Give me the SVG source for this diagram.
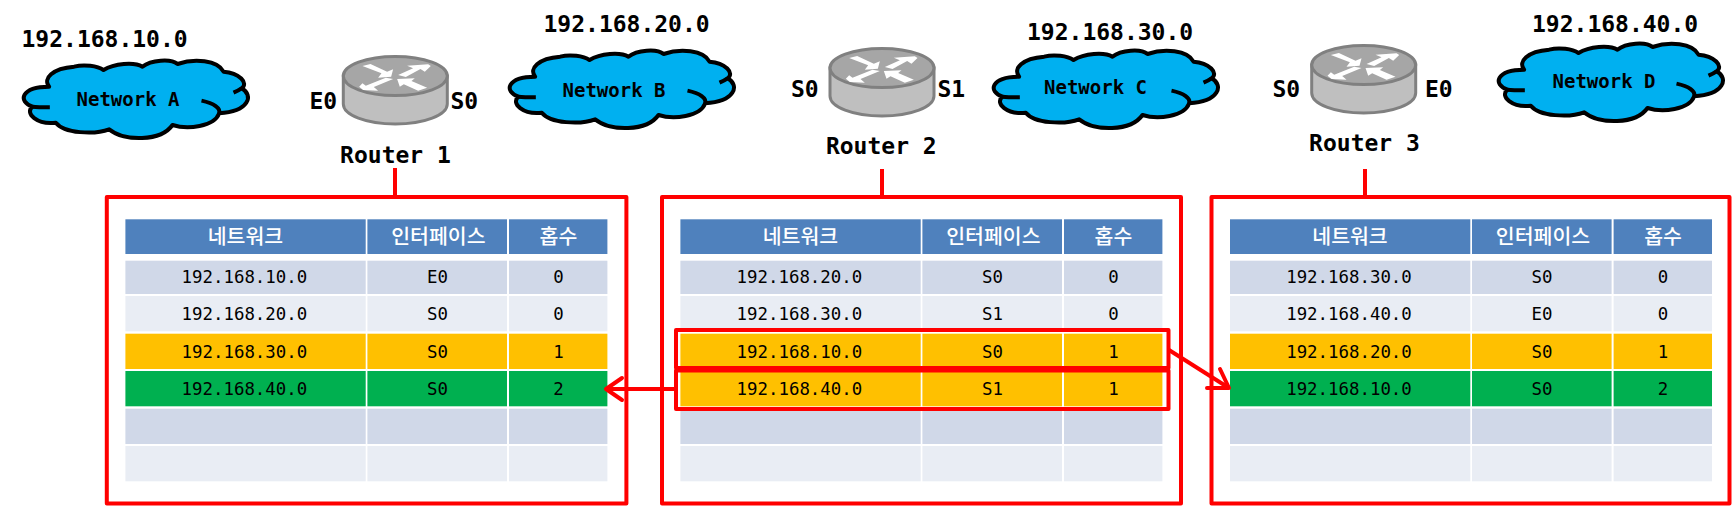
<svg xmlns="http://www.w3.org/2000/svg" xmlns:xlink="http://www.w3.org/1999/xlink" width="1733" height="506" viewBox="0 0 1733 506">
<style>
text{font-family:"DejaVu Sans Mono","Liberation Mono",monospace;fill:#000}
.b{font-weight:bold;font-size:23px}
.n{font-weight:bold;font-size:19px}
.m{text-anchor:middle}
.t{font-size:17.400px;text-anchor:middle}
.h{font-family:"Noto Sans CJK KR","Noto Sans",sans-serif;font-size:20.500px;font-weight:500;fill:#fff;text-anchor:middle}
.hd{fill:#4f81bd}.a{fill:#d0d8e8}.c{fill:#e9edf4}.o{fill:#ffc000}.g{fill:#00b050}
.red{fill:none;stroke:#f00;stroke-width:4;stroke-linejoin:round}
.cloud{fill:#00b0f0;stroke:#000;stroke-width:12;stroke-linejoin:round}
.tick{fill:none;stroke:#000;stroke-width:12}
</style>
<defs>
<g id="cl" transform="translate(17.500 50) scale(.33333)">
<path class="cloud" d="M95 110C75 85 105 55 170 50C200 42 240 48 258 60C290 40 350 35 375 50C400 30 460 25 480 42C530 25 600 30 618 65C665 68 695 100 672 115C710 135 695 185 605 190C590 230 510 240 465 225C430 275 320 275 275 238C230 255 140 250 115 218C60 225 20 190 45 170C0 155 10 110 95 110Z"/>
<path class="tick" d="M45 170C60 172 80 172 97 172M672 115C665 120 657 124 648 128M552 152C590 160 610 175 605 190"/>
</g>
<g id="rt">
<path d="M-52 0V28C-52 39 -29 48 0 48C29 48 52 39 52 28V0Z" fill="#bfbfbf" stroke="#808080" stroke-width="3"/>
<ellipse cx="0" cy="0" rx="52" ry="19.500" fill="#a6a6a6" stroke="#808080" stroke-width="3"/>
<g fill="#fff" transform="translate(-45.500 -21) scale(.33333)">
<polygon points="38,33 62,27 112,50 130,43 124,65 85,68 95,55"/>
<polygon points="145,60 190,40 172,32 235,28 243,33 225,50 212,42 168,66"/>
<polygon points="28,95 38,85 48,92 108,68 130,72 72,96 85,107 40,105"/>
<polygon points="142,72 195,70 185,78 232,98 205,107 162,88 150,95"/>
</g>
</g>
<g id="r0"><rect x="0" width="240.300" height="34.700"/><rect x="242" width="139.600" height="34.700"/><rect x="383.600" width="98.400" height="34.700"/></g>
<g id="r1"><rect x="0" width="240.300" height="33.300"/><rect x="242" width="139.600" height="33.300"/><rect x="383.600" width="98.400" height="33.300"/></g>
<g id="r"><rect x="0" width="240.300" height="35.300"/><rect x="242" width="139.600" height="35.300"/><rect x="383.600" width="98.400" height="35.300"/></g>
<g id="hdr">
<use href="#r0" y="219.300" class="hd"/>
<text class="h" x="120" y="243.500">네트워크</text><text class="h" x="313" y="243.500">인터페이스</text><text class="h" x="433" y="243.500">홉수</text>
</g>
<g id="bg">
<use href="#r" y="408.700" class="a"/><use href="#r" y="446" class="c"/>
<use href="#r1" y="260.700" class="a"/><use href="#r" y="296" class="c"/>
</g>
</defs>

<g id="cloud-a"><use href="#cl" x="0" y="0"/><text class="n m" x="128" y="106">Network A</text></g>
<g id="label-a"><text class="b" x="21.500" y="47">192.168.10.0</text></g>
<g id="cloud-b"><use href="#cl" x="486" y="-10"/><text class="n m" x="614" y="97">Network B</text></g>
<g id="label-b"><text class="b" x="543.500" y="32">192.168.20.0</text></g>
<g id="cloud-c"><use href="#cl" x="970" y="-10"/><text class="n m" x="1095.500" y="93.500">Network C</text></g>
<g id="label-c"><text class="b" x="1027" y="40">192.168.30.0</text></g>
<g id="cloud-d"><use href="#cl" x="1475" y="-17"/><text class="n m" x="1604" y="88">Network D</text></g>
<g id="label-d"><text class="b" x="1532" y="32">192.168.40.0</text></g>

<g id="router-1"><use href="#rt" x="395.300" y="76"/><text class="b" x="309.500" y="109">E0</text><text class="b" x="450.500" y="109">S0</text><text class="b m" x="395.500" y="163">Router 1</text></g>
<g id="router-2"><use href="#rt" x="882" y="68"/><text class="b" x="791" y="96.500">S0</text><text class="b" x="937.500" y="96.500">S1</text><text class="b m" x="881.300" y="154">Router 2</text></g>
<g id="router-3"><use href="#rt" x="1363.700" y="65"/><text class="b" x="1272.500" y="96.700">S0</text><text class="b" x="1425" y="96.700">E0</text><text class="b m" x="1364.500" y="150.500">Router 3</text></g>

<g id="table-1" transform="translate(125.400 0)">
<use href="#hdr"/><use href="#bg"/><use href="#r" y="333.700" class="o"/><use href="#r" y="371" class="g"/>
<text class="t" x="119" y="283">192.168.10.0</text><text class="t" x="312" y="283">E0</text><text class="t" x="433" y="283">0</text>
<text class="t" x="119" y="320">192.168.20.0</text><text class="t" x="312" y="320">S0</text><text class="t" x="433" y="320">0</text>
<text class="t" x="119" y="358">192.168.30.0</text><text class="t" x="312" y="358">S0</text><text class="t" x="433" y="358">1</text>
<text class="t" x="119" y="395">192.168.40.0</text><text class="t" x="312" y="395">S0</text><text class="t" x="433" y="395">2</text>
</g>
<g id="table-2" transform="translate(680.400 0)">
<use href="#hdr"/><use href="#bg"/><use href="#r" y="333.700" class="o"/><use href="#r" y="371" class="o"/>
<text class="t" x="119" y="283">192.168.20.0</text><text class="t" x="312" y="283">S0</text><text class="t" x="433" y="283">0</text>
<text class="t" x="119" y="320">192.168.30.0</text><text class="t" x="312" y="320">S1</text><text class="t" x="433" y="320">0</text>
<text class="t" x="119" y="358">192.168.10.0</text><text class="t" x="312" y="358">S0</text><text class="t" x="433" y="358">1</text>
<text class="t" x="119" y="395">192.168.40.0</text><text class="t" x="312" y="395">S1</text><text class="t" x="433" y="395">1</text>
</g>
<g id="table-3" transform="translate(1230 0)">
<use href="#hdr"/><use href="#bg"/><use href="#r" y="333.700" class="o"/><use href="#r" y="371" class="g"/>
<text class="t" x="119" y="283">192.168.30.0</text><text class="t" x="312" y="283">S0</text><text class="t" x="433" y="283">0</text>
<text class="t" x="119" y="320">192.168.40.0</text><text class="t" x="312" y="320">E0</text><text class="t" x="433" y="320">0</text>
<text class="t" x="119" y="358">192.168.20.0</text><text class="t" x="312" y="358">S0</text><text class="t" x="433" y="358">1</text>
<text class="t" x="119" y="395">192.168.10.0</text><text class="t" x="312" y="395">S0</text><text class="t" x="433" y="395">2</text>
</g>

<g id="connectors">
<rect class="red" x="106.800" y="197" width="519.600" height="306.500"/>
<rect class="red" x="662" y="197" width="519" height="306.500"/>
<rect class="red" x="1211.500" y="197" width="518" height="306.500"/>
<path class="red" d="M395 168V197M882 169V197M1365 169V197"/>
<rect class="red" x="676" y="330" width="492.500" height="38"/>
<rect class="red" x="676" y="370.500" width="492.500" height="38.500"/>
<path class="red" d="M676 389H606"/>
<path class="red" d="M622 378L606 389L622 400" stroke-linecap="round"/>
<path class="red" d="M1169 350L1229 388"/>
<path class="red" d="M1207 388L1229 388L1220 369" stroke-linecap="round"/>
</g>
</svg>
